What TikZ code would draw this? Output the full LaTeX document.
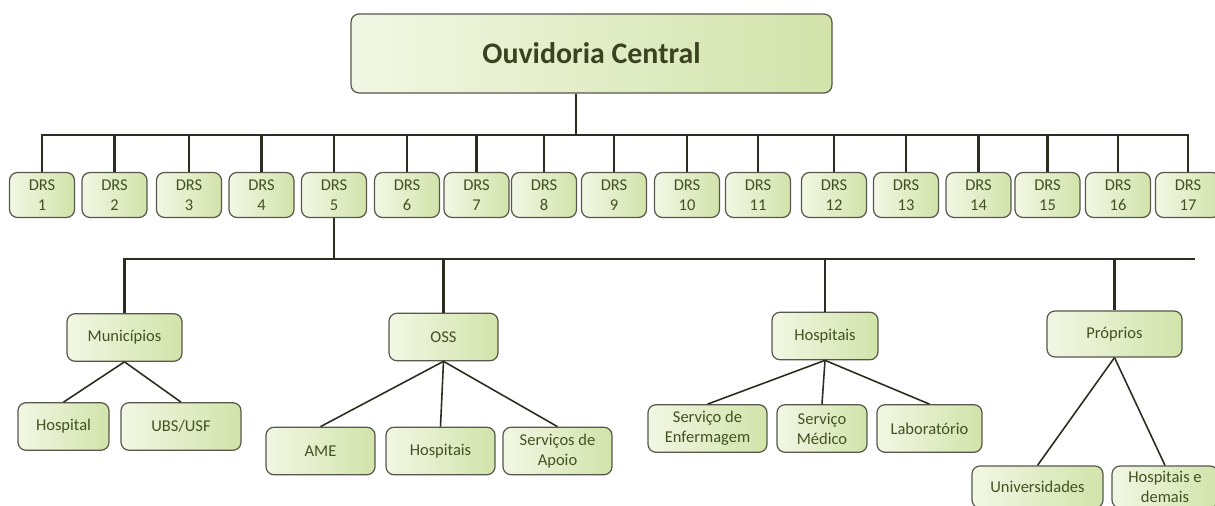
\documentclass[tikz,border=0pt]{standalone}
\usepackage{fontspec}
\setmainfont{Carlito}
\definecolor{boxtop}{HTML}{F2F7E4}
\definecolor{boxbot}{HTML}{D2E3AA}
\definecolor{boxline}{HTML}{55584A}
\definecolor{txt}{HTML}{435122}
\definecolor{ttl}{HTML}{3A4220}
\definecolor{wire}{HTML}{2C2D20}

\begin{document}
\begin{tikzpicture}[x=0.02cm,y=-0.02cm,
    card/.style={draw=boxline,line width=0.7pt,rounded corners=0.16cm,left color=boxtop,right color=boxbot,
        text=txt,align=center,font=\fontsize{9.4}{11.5}\selectfont,inner sep=0pt,minimum height=0.95cm},
    branch/.style={draw=wire,line width=1.3pt},
    twig/.style={draw=wire,line width=0.9pt}]
                    \useasboundingbox (0,0) rectangle (1215,506);
                    \node[card,minimum width=9.62cm,minimum height=1.58cm,text=ttl,font=\fontsize{17}{19}\selectfont\bfseries] (ouv) at (591.5,53.5) {Ouvidoria Central};
                    \foreach \i/\x in {1/42,2/114.5,3/189,4/261.5,5/334,6/407,7/476.5,8/544,9/614,10/687,11/758,12/834,13/906,14/978.5,15/1047.5,16/1118,17/1188}
                        \node[card,minimum width=1.3cm,minimum height=0.9cm] (d\i) at (\x,195) {DRS\\\i};
                    \coordinate (barA) at (576,135);
                    \coordinate (barB) at (0,259);
                    \coordinate (barEnd) at (1195,259);
                    \node[card,minimum width=2.3cm] (mun) at (124.5,337.5) {Municípios};
                    \node[card,minimum width=2.18cm] (oss) at (443.5,337) {OSS};
                    \node[card,minimum width=2.12cm] (hosp) at (825,336) {Hospitais};
                    \node[card,minimum width=2.7cm,minimum height=0.92cm] (prop) at (1114.5,334) {Próprios};
                    \node[card,minimum width=1.82cm] (hospital) at (63.5,426.5) {Hospital};
                    \node[card,minimum width=2.4cm] (ubs) at (181,426.5) {UBS/USF};
                    \node[card,minimum width=2.18cm] (ame) at (320.5,451) {AME};
                    \node[card,minimum width=2.18cm] (osshosp) at (440.5,451) {Hospitais};
                    \node[card,minimum width=2.18cm] (apoio) at (557.5,451) {Serviços de\\Apoio};
                    \node[card,minimum width=2.38cm] (enf) at (707.5,428.5) {Serviço de\\Enfermagem};
                    \node[card,minimum width=1.8cm] (med) at (822,428.5) {Serviço\\Médico};
                    \node[card,minimum width=2.1cm] (lab) at (929.5,428.5) {Laboratório};
                    \node[card,minimum width=2.62cm,minimum height=0.84cm] (univ) at (1037.5,487) {Universidades};
                    \node[card,minimum width=2.12cm,minimum height=0.84cm] (hdemais) at (1165,487) {Hospitais e\\demais};
                    \draw[branch] (ouv.south -| barA) -- (barA);
                    \draw[branch] (d1.north) |- (d17.north |- barA) -- (d17.north);
                    \foreach \i in {2,...,16}
                        \draw[branch] (d\i.north) -- (d\i.north |- barA);
                    \draw[branch] (d5.south) -- (d5.south |- barB);
                    \draw[branch] (mun.north) |- (barEnd);
                    \foreach \n in {oss,hosp,prop}
                        \draw[branch] (\n.north) -- (\n.north |- barB);
                    \draw[twig] (mun.south) -- (hospital.north);
                    \draw[twig] (mun.south) -- (ubs.north);
                    \draw[twig] (oss.south) -- (ame.north);
                    \draw[twig] (oss.south) -- (osshosp.north);
                    \draw[twig] (oss.south) -- (apoio.north);
                    \draw[twig] (hosp.south) -- (enf.north);
                    \draw[twig] (hosp.south) -- (med.north);
                    \draw[twig] (hosp.south) -- (lab.north);
                    \draw[twig] (prop.south) -- (univ.north);
                    \draw[twig] (prop.south) -- (hdemais.north);
                \end{tikzpicture}
\end{document}
